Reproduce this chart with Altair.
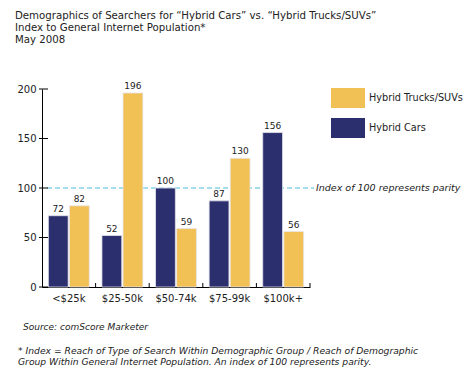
import altair as alt
import pandas as pd

categories = ["<$25k", "$25-50k", "$50-74k", "$75-99k", "$100k+"]
hybrid_cars = [72, 52, 100, 87, 156]
hybrid_trucks = [82, 196, 59, 130, 56]
series = ["Hybrid Cars", "Hybrid Trucks/SUVs"]
legend_order = ["Hybrid Trucks/SUVs", "Hybrid Cars"]
legend_colors = ["#f2c155", "#2b2f6e"]
y_ticks = [0, 50, 100, 150, 200]
parity_value = 100
parity_label = "Index of 100 represents parity"
title_lines = [
    "Demographics of Searchers for \u201cHybrid Cars\u201d vs. \u201cHybrid Trucks/SUVs\u201d",
    "Index to General Internet Population*",
    "May 2008",
]
source_line = "Source: comScore Marketer"
footnote_lines = [
    "* Index = Reach of Type of Search Within Demographic Group / Reach of Demographic",
    "Group Within General Internet Population.  An index of 100 represents parity.",
]

rows = []
for i, c in enumerate(categories):
    rows.append({"income": c, "series": "Hybrid Cars", "index": hybrid_cars[i]})
    rows.append({"income": c, "series": "Hybrid Trucks/SUVs", "index": hybrid_trucks[i]})
df = pd.DataFrame(rows)
one = pd.DataFrame({"k": [0]})
ticks_df = pd.DataFrame({"v": y_ticks})
cats_df = pd.DataFrame({"income": categories})

W, H = 268, 198
FONT = "DejaVu Sans"

xscale = alt.Scale(domain=categories, paddingInner=0, paddingOuter=0)
yscale = alt.Scale(domain=[0, 200], nice=False, zero=True)

x_enc = alt.X(
    "income:N", sort=categories, scale=xscale,
    axis=alt.Axis(title=None, labelAngle=0, labelFont=FONT, labelFontSize=10,
                  labelColor="#222", domainColor="#000", ticks=False,
                  labelPadding=6),
)
y_enc = alt.Y(
    "index:Q", scale=yscale,
    axis=alt.Axis(title=None, values=y_ticks, labelFont=FONT, labelFontSize=10,
                  labelColor="#222", domainColor="#000", ticks=False,
                  grid=False, labelPadding=6),
)
xoff = alt.XOffset("series:N", sort=series,
                   scale=alt.Scale(domain=series, paddingInner=0.06, paddingOuter=0.3))

parity_rule = alt.Chart(one).mark_rule(
    color="#86d2e6", strokeDash=[5, 3], strokeWidth=1.5
).encode(y=alt.datum(parity_value, scale=yscale), x=alt.value(5), x2=alt.value(272))

bars = alt.Chart(df).mark_bar(stroke="#e6e6ee", strokeWidth=0.8).encode(
    x=x_enc,
    xOffset=xoff,
    y=y_enc,
    color=alt.Color(
        "series:N",
        scale=alt.Scale(domain=legend_order, range=legend_colors),
        legend=alt.Legend(
            title=None, orient="none", legendX=296, legendY=-1,
            symbolType="M-1.7,-1H1.7V1H-1.7Z", symbolSize=400,
            symbolStrokeWidth=0, symbolOpacity=1, labelOffset=11,
            labelFont=FONT, labelFontSize=9.7, labelColor="#222",
            rowPadding=10, padding=0, labelLimit=200,
        ),
    ),
)

bar_labels = alt.Chart(df).mark_text(
    font=FONT, fontSize=9, color="#222", baseline="alphabetic", dy=-4
).encode(x=alt.X("income:N", sort=categories, scale=xscale), xOffset=xoff,
         y=alt.Y("index:Q", scale=yscale), text="index:Q")

y_tick_marks = alt.Chart(ticks_df).mark_rule(color="#000", strokeWidth=1).encode(
    y=alt.Y("v:Q", scale=yscale), x=alt.value(-3), x2=alt.value(6)
)
x_tick_marks = alt.Chart(cats_df).mark_rule(color="#000", strokeWidth=1).encode(
    x=alt.X("income:N", sort=categories, scale=xscale, bandPosition=1),
    y=alt.value(H - 4), y2=alt.value(H),
)

parity_text = alt.Chart(one).mark_text(
    font=FONT, fontSize=9.5, fontStyle="italic", color="#222",
    align="left", baseline="middle",
).encode(y=alt.datum(parity_value, scale=yscale), x=alt.value(274),
         text=alt.value(parity_label))

title_text = alt.Chart(one).mark_text(
    font=FONT, fontSize=10.2, color="#222", align="left", baseline="alphabetic",
    lineHeight=12,
).encode(x=alt.value(-27), y=alt.value(-70), text=alt.value(title_lines))

source_text = alt.Chart(one).mark_text(
    font=FONT, fontSize=9, fontStyle="italic", color="#222", align="left",
    baseline="alphabetic",
).encode(x=alt.value(-19), y=alt.value(241), text=alt.value(source_line))

foot_text = alt.Chart(one).mark_text(
    font=FONT, fontSize=9.2, fontStyle="italic", color="#222", align="left",
    baseline="alphabetic", lineHeight=10.5,
).encode(x=alt.value(-24), y=alt.value(265), text=alt.value(footnote_lines))

chart = alt.layer(
    parity_rule, bars, bar_labels, y_tick_marks, x_tick_marks,
    parity_text, title_text, source_text, foot_text,
).properties(
    width=W, height=H,
    autosize=alt.AutoSizeParams(type="none"),
    padding={"left": 34, "top": 81, "right": 155, "bottom": 89},
    background="white",
).configure_view(stroke=None)

chart.save("out.html", embed_options={"renderer": "svg", "actions": False})
